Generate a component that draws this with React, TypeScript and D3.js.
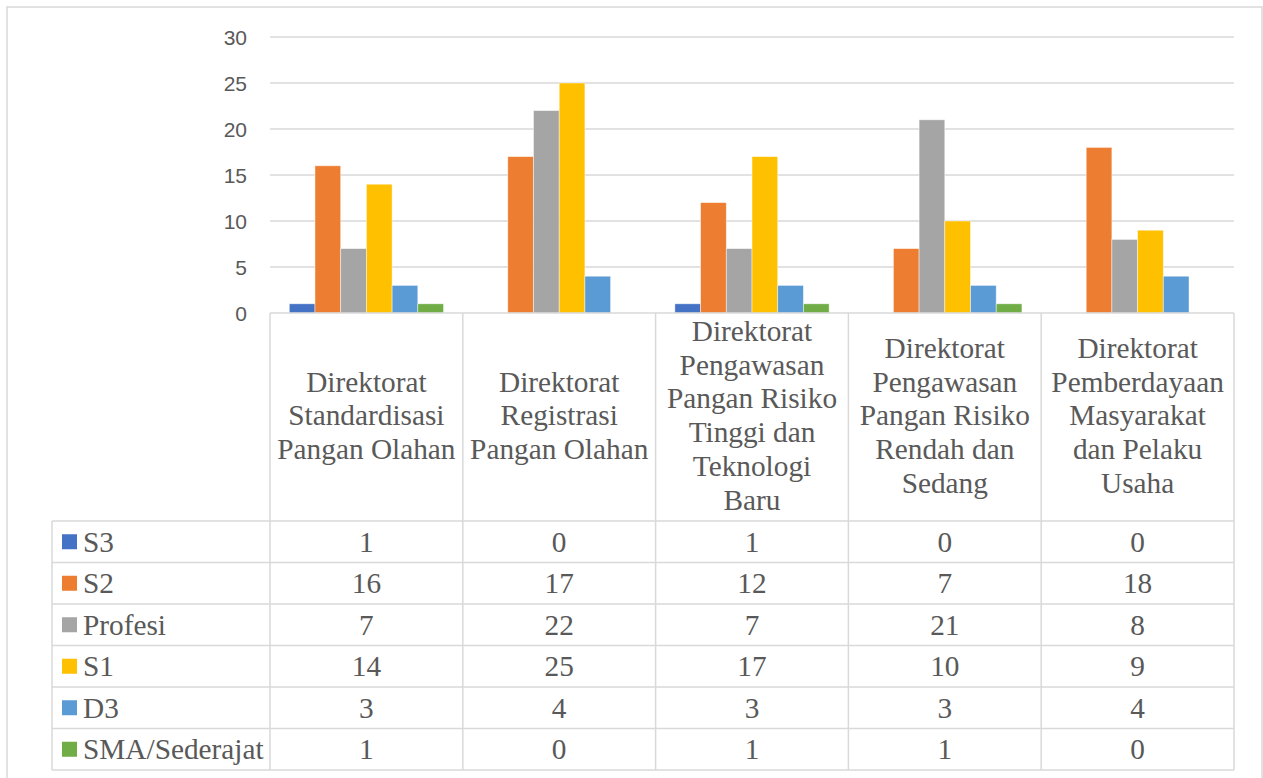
import React from 'react';
import * as d3 from 'd3';

// categories (wrapped the same way as in the chart's data table)
const categories: string[][] = [
  ['Direktorat', 'Standardisasi', 'Pangan Olahan'],
  ['Direktorat', 'Registrasi', 'Pangan Olahan'],
  ['Direktorat', 'Pengawasan', 'Pangan Risiko', 'Tinggi dan', 'Teknologi', 'Baru'],
  ['Direktorat', 'Pengawasan', 'Pangan Risiko', 'Rendah dan', 'Sedang'],
  ['Direktorat', 'Pemberdayaan', 'Masyarakat', 'dan Pelaku', 'Usaha'],
];

const seriesNames = ['S3', 'S2', 'Profesi', 'S1', 'D3', 'SMA/Sederajat'];
const seriesColors = ['#4472C4', '#ED7D31', '#A5A5A5', '#FFC000', '#5B9BD5', '#70AD47'];

const s3 = [1, 0, 1, 0, 0];
const s2 = [16, 17, 12, 7, 18];
const profesi = [7, 22, 7, 21, 8];
const s1 = [14, 25, 17, 10, 9];
const d3v = [3, 4, 3, 3, 4];
const sma = [1, 0, 1, 1, 0];
const seriesValues = [s3, s2, profesi, s1, d3v, sma];

const yTicks = [0, 5, 10, 15, 20, 25, 30];

const W = 1263;
const H = 778;
const grid = '#D9D9D9';
const textColor = '#595959';
const serif = '"Liberation Serif", "Times New Roman", serif';
const sans = '"Liberation Sans", Arial, sans-serif';
const fs = 29.3;

const App: React.FC = () => {
  const plotLeft = 270;
  const plotRight = 1234;
  const legendLeft = 52;
  const headerBottom = 521;
  const tableBottom = 770;

  const y = d3.scaleLinear().domain([0, 30]).range([313, 37]);
  const catKeys = categories.map((_, i) => String(i));
  const x0 = d3.scaleBand().domain(catKeys).range([plotLeft, plotRight]);
  const x1 = d3.scaleBand().domain(seriesNames).range([0, x0.bandwidth()]).paddingOuter(0.75);
  const rowScale = d3.scaleBand().domain(seriesNames).range([headerBottom, tableBottom]);

  const headerMid = (y(0) + headerBottom) / 2;
  const lineGap = 33.7;

  return (
    <svg width={W} height={H} style={{ position: 'absolute', left: 0, top: 0, background: '#fff' }}>
      <rect x={7} y={7} width={1255} height={H} fill="#fff" stroke={grid} strokeWidth={1.5} />

      {/* gridlines + y labels */}
      {yTicks.map(t => (
        <g key={t}>
          {t > 0 && <line x1={plotLeft} x2={plotRight} y1={y(t)} y2={y(t)} stroke={grid} strokeWidth={1.5} />}
          <text x={247} y={y(t) + 7.5} textAnchor="end" fontFamily={sans} fontSize={21} fill={textColor}>{t}</text>
        </g>
      ))}

      {/* bars */}
      {seriesValues.map((vals, si) =>
        vals.map((v, ci) =>
          v > 0 ? (
            <rect
              key={`${si}-${ci}`}
              x={(x0(String(ci)) ?? 0) + (x1(seriesNames[si]) ?? 0)}
              y={y(v)}
              width={x1.bandwidth()}
              height={y(0) - y(v)}
              fill={seriesColors[si]}
              stroke="#fff"
              strokeOpacity={0.6}
              strokeWidth={0.75}
            />
          ) : null
        )
      )}

      {/* table lines */}
      <line x1={plotLeft} x2={plotRight} y1={y(0)} y2={y(0)} stroke={grid} strokeWidth={1.5} />
      {catKeys.concat(['end']).map((k, i) => {
        const xx = k === 'end' ? plotRight : (x0(k) ?? 0);
        return <line key={i} x1={xx} x2={xx} y1={y(0)} y2={tableBottom} stroke={grid} strokeWidth={1.5} />;
      })}
      <line x1={legendLeft} x2={legendLeft} y1={headerBottom} y2={tableBottom} stroke={grid} strokeWidth={1.5} />
      {seriesNames.map(s => (
        <line key={s} x1={legendLeft} x2={plotRight} y1={rowScale(s)} y2={rowScale(s)} stroke={grid} strokeWidth={1.5} />
      ))}
      <line x1={legendLeft} x2={plotRight} y1={tableBottom} y2={tableBottom} stroke={grid} strokeWidth={1.5} />

      {/* category header */}
      {categories.map((lines, ci) => {
        const cx = (x0(String(ci)) ?? 0) + x0.bandwidth() / 2;
        return (
          <text key={ci} textAnchor="middle" fontFamily={serif} fontSize={fs} fill={textColor}>
            {lines.map((ln, li) => (
              <tspan key={li} x={cx} y={headerMid + 8.3 + (li - (lines.length - 1) / 2) * lineGap}>{ln}</tspan>
            ))}
          </text>
        );
      })}

      {/* data rows */}
      {seriesNames.map((s, si) => {
        const rowMid = (rowScale(s) ?? 0) + rowScale.bandwidth() / 2;
        return (
          <g key={s}>
            <rect x={62} y={rowMid - 7.5} width={15} height={15} fill={seriesColors[si]} />
            <text x={83} y={rowMid + 10} fontFamily={serif} fontSize={fs} fill={textColor}>{s}</text>
            {seriesValues[si].map((v, ci) => (
              <text
                key={ci}
                x={(x0(String(ci)) ?? 0) + x0.bandwidth() / 2}
                y={rowMid + 10}
                textAnchor="middle"
                fontFamily={serif}
                fontSize={fs}
                fill={textColor}
              >{v}</text>
            ))}
          </g>
        );
      })}
    </svg>
  );
};

export default App;
